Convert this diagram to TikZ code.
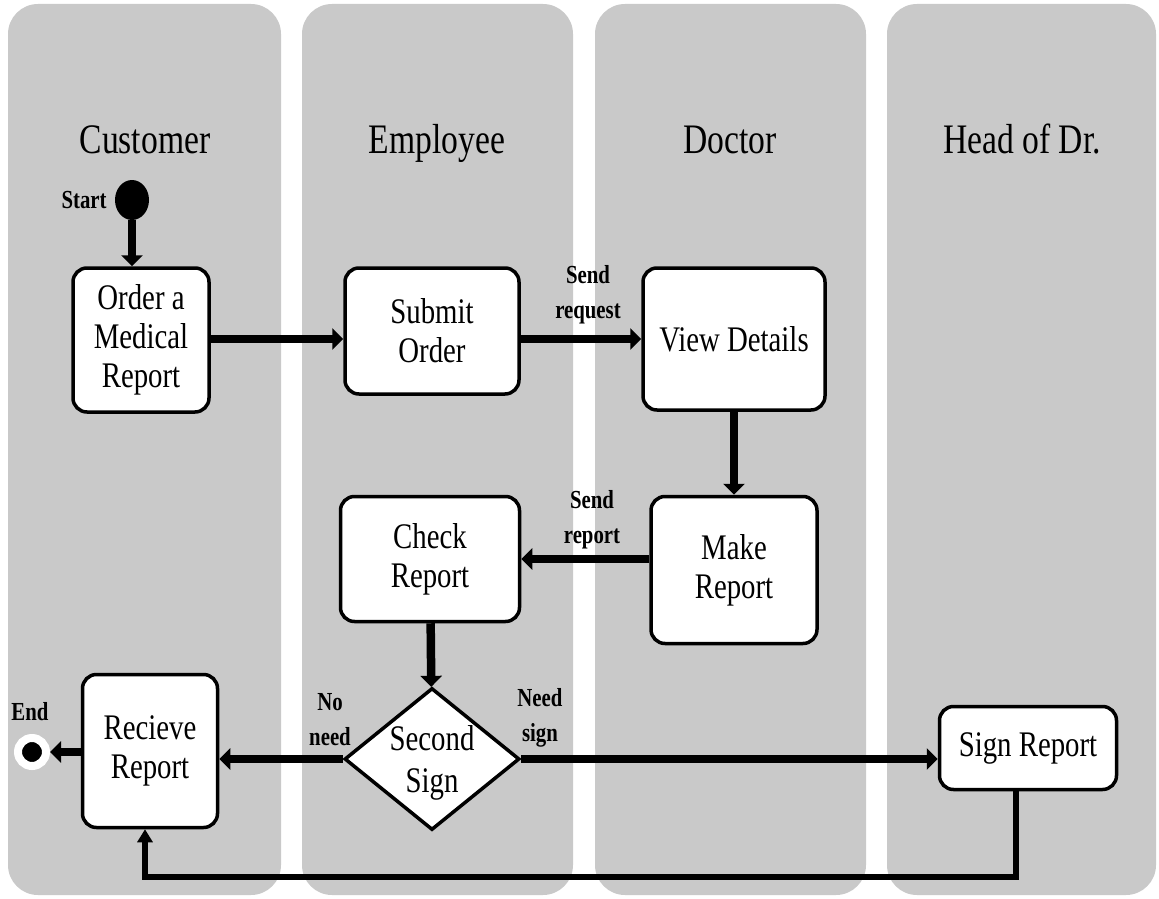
\documentclass[tikz,border=0pt]{standalone}
\usepackage{fontspec}
\setmainfont{Liberation Serif}[FakeStretch=0.8]
\usepackage{tikz}
\usetikzlibrary{arrows.meta,positioning,calc,shapes.geometric}

\definecolor{lanegray}{HTML}{C9C9C9}
\newcommand{\titlefont}{\fontsize{42}{46}\selectfont}
\newcommand{\actfont}{\fontsize{36}{39}\selectfont}
\newcommand{\lblfont}{\fontsize{26}{35}\selectfont\bfseries}

\begin{document}
\begin{tikzpicture}[
  x=1pt, y=-1pt,
  lane/.style={fill=lanegray, rounded corners=30pt},
  title/.style={font=\titlefont, anchor=base},
  act/.style={draw, line width=3.5pt, rounded corners=14pt, fill=white, align=center, inner sep=0pt, font=\actfont},
  decide/.style={diamond, draw, line width=3.5pt, fill=white, aspect=1.23, inner sep=0pt, minimum width=175pt, minimum height=142pt, align=center, font=\actfont},
  lbl/.style={font=\lblfont, align=center, inner sep=0pt},
  arr/.style={-{Triangle[length=11pt,width=21pt]}, line width=8.5pt},
  back/.style={-{Triangle[length=13pt,width=15pt]}, line width=6pt}
]
\useasboundingbox (0,0) rectangle (1159,899);
% swimlanes
\fill[lane] (8,4) rectangle (281,895);
\fill[lane] (302,4) rectangle (573,895);
\fill[lane] (595,4) rectangle (866,895);
\fill[lane] (887,4) rectangle (1156,895);
\node[title] (tcust) at (145,153) {Customer};
\node[title] (temp) at (437,153) {Employee};
\node[title] (tdoc) at (730,153) {Doctor};
\node[title] (thead) at (1022,153) {Head of Dr.};

% activities
\node[ellipse, fill=black, minimum width=34pt, minimum height=40pt, inner sep=0pt] (start) at (132,200) {};
\node[lbl, left=8pt of start] (lstart) {Start};
\node[act, minimum width=136pt, minimum height=144pt] (order) at (141,340) {Order a\\Medical\\Report};
\node[act, minimum width=174pt, minimum height=126pt] (submit) at (432,331) {Submit\\Order};
\node[act, minimum width=182pt, minimum height=142pt] (view) at (734,339) {View Details};
\node[act, minimum width=166pt, minimum height=147pt] (make) at (734,570) {Make\\Report};
\node[act, minimum width=179pt, minimum height=125pt] (check) at (430,559) {Check\\Report};
\node[decide] (second) at (432,759) {};
\node[font=\actfont, align=center, inner sep=0pt] (secondtxt) at (432,763) {Second\\[3pt]Sign};
\node[act, minimum width=135pt, minimum height=153pt] (recv) at (150,751) {Recieve\\Report};
\node[act, minimum width=177pt, minimum height=83pt] (sign) at (1028,748) {Sign Report};
\node[circle, fill=black, draw=white, line width=8pt, minimum size=28pt, inner sep=0pt] (end) at (32,752) {};
\node[lbl] (lend) at (30,712) {End};

% edge labels
\node[lbl] (lreq) at (588,295) {Send\\request};
\node[lbl] (lrep) at (592,520) {Send\\report};
\node[lbl] (lno) at (330,720) {No\\need};
\node[lbl] (lneed) at (540,718) {Need\\sign};

% flows
\draw[arr] (start.south) -- (start.south |- order.north);
\draw[arr] (order.east |- view.west) -- (submit.west |- view.west);
\draw[arr] (submit.east |- view.west) -- (view.west);
\draw[arr] (view) -- (make);
\draw[arr] (make.west |- check.east) -- (check.east);
\draw[arr] (check) -- (second);
\draw[arr] (second.west) -- (second.west -| recv.east);
\draw[arr] (second.east) -- (second.east -| sign.west);
\coordinate (loop) at (560,877);
\draw[back] ([xshift=-12pt]sign.south) |- (loop) -| ([xshift=-5pt]recv.south);
\draw[arr] (recv.west |- end) -- (end);
\end{tikzpicture}
\end{document}
